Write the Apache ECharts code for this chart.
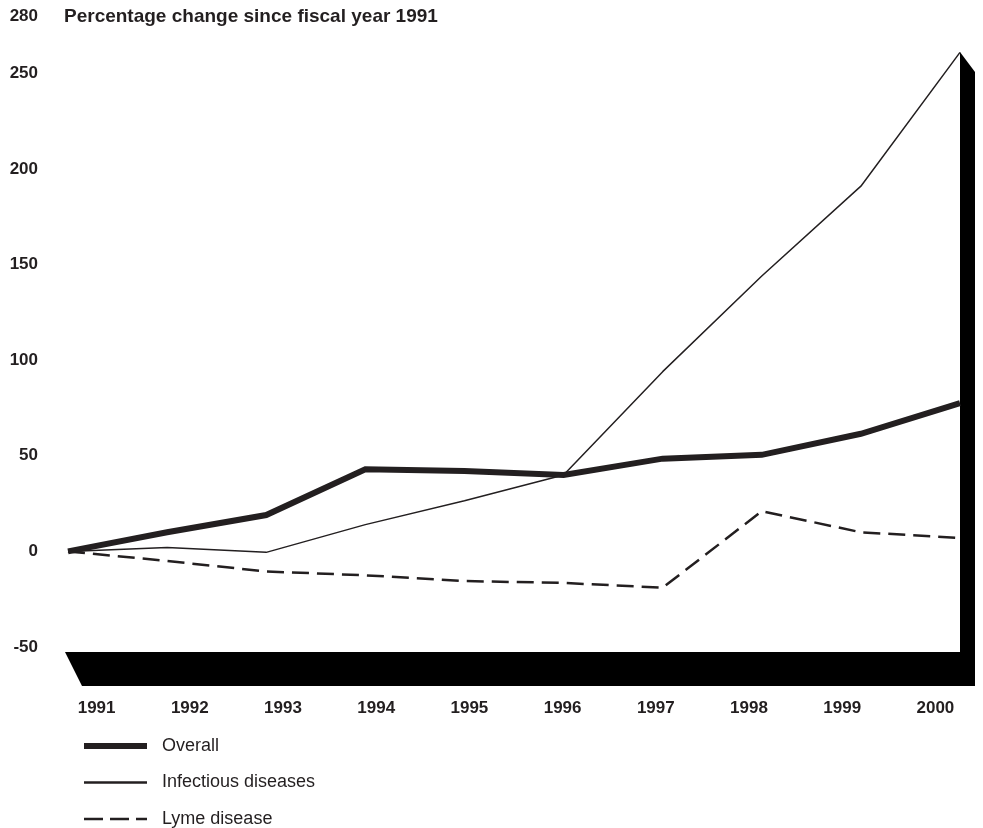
<!DOCTYPE html>
<html>
<head>
<meta charset="utf-8">
<title>Percentage change since fiscal year 1991</title>
<script src="https://cdn.jsdelivr.net/npm/echarts@6/dist/echarts.min.js"></script>
<style>
  html, body { margin: 0; padding: 0; background: #fff; }
  #main { width: 983px; height: 828px; }
</style>
</head>
<body>
<div id="main"></div>
<script>
// 年份 / 数值
var years = ['1991', '1992', '1993', '1994', '1995', '1996', '1997', '1998', '1999', '2000'];
var overall = [0, 10, 19, 43, 42, 40, 48.5, 50.5, 61.5, 77.5];
var infectious = [0, 2, -0.5, 14, 26.5, 40, 94, 144, 191, 261];
var lyme = [0, -5, -10.5, -12.5, -15.5, -16.5, -19, 21, 10, 7];
var yTicks = [-50, 0, 50, 100, 150, 200, 250, 280];

var ink = '#231f20';
var font = '"Liberation Sans", Arial, Helvetica, sans-serif';

var myChart = echarts.init(document.getElementById('main'));

var option = {
    animation: false,
    backgroundColor: '#fff',
    title: {
        text: 'Percentage change since fiscal year 1991',
        left: 59,
        top: 2,
        textStyle: { fontFamily: font, fontSize: 19, fontWeight: 'bold', color: ink }
    },
    grid: [
        { left: 68, right: 23, top: 16, bottom: 181 },   // lines
        { left: 50, right: 1, top: 16, bottom: 181 }      // year labels
    ],
    xAxis: [{
        gridIndex: 0,
        type: 'category',
        data: years,
        boundaryGap: false,
        axisLine: { show: false },
        axisTick: { show: false },
        axisLabel: { show: false }
    }, {
        gridIndex: 1,
        type: 'category',
        data: years,
        boundaryGap: true,
        axisLine: { show: false },
        axisTick: { show: false },
        axisLabel: {
            margin: 53,
            fontFamily: font, fontSize: 17, fontWeight: 'bold', color: ink
        }
    }],
    yAxis: [{
        gridIndex: 0,
        type: 'value',
        min: -50,
        max: 280,
        interval: 50,
        axisLine: { show: false },
        axisTick: { show: false },
        splitLine: { show: false },
        axisLabel: {
            customValues: yTicks,
            margin: 30,
            fontFamily: font, fontSize: 17, fontWeight: 'bold', color: ink
        }
    }, {
        gridIndex: 1,
        type: 'value',
        min: -50,
        max: 280,
        show: false
    }],
    legend: {
        orient: 'vertical',
        left: 76,
        top: 732,
        height: 110,
        itemWidth: 63,
        itemHeight: 14,
        itemGap: 18.5,
        textStyle: { fontFamily: font, fontSize: 18, color: ink, padding: [0, 0, 0, 10] },
        data: [
            { name: 'Overall', lineStyle: { width: 6, color: ink }, itemStyle: { opacity: 0 } },
            { name: 'Infectious diseases', lineStyle: { width: 2.5, color: ink }, itemStyle: { opacity: 0 } },
            { name: 'Lyme disease', lineStyle: { width: 2.5, color: ink, type: [19, 7] }, itemStyle: { opacity: 0 } }
        ]
    },
    graphic: [{
        // 3D 底座和右侧墙
        type: 'polygon',
        z: 1,
        shape: { points: [[960, 52], [975, 72], [975, 686], [82, 686], [65, 652], [960, 652]] },
        style: { fill: '#000' }
    }],
    series: [{
        name: 'Overall',
        type: 'line',
        data: overall,
        symbol: 'none',
        z: 5,
        lineStyle: { width: 6, color: ink, join: 'miter' },
        itemStyle: { color: ink }
    }, {
        name: 'Infectious diseases',
        type: 'line',
        data: infectious,
        symbol: 'none',
        z: 4,
        lineStyle: { width: 1.5, color: ink },
        itemStyle: { color: ink }
    }, {
        name: 'Lyme disease',
        type: 'line',
        data: lyme,
        symbol: 'none',
        z: 4,
        lineStyle: { width: 2.5, color: ink, type: [17, 8] },
        itemStyle: { color: ink }
    }]
};

myChart.setOption(option);
</script>
</body>
</html>
